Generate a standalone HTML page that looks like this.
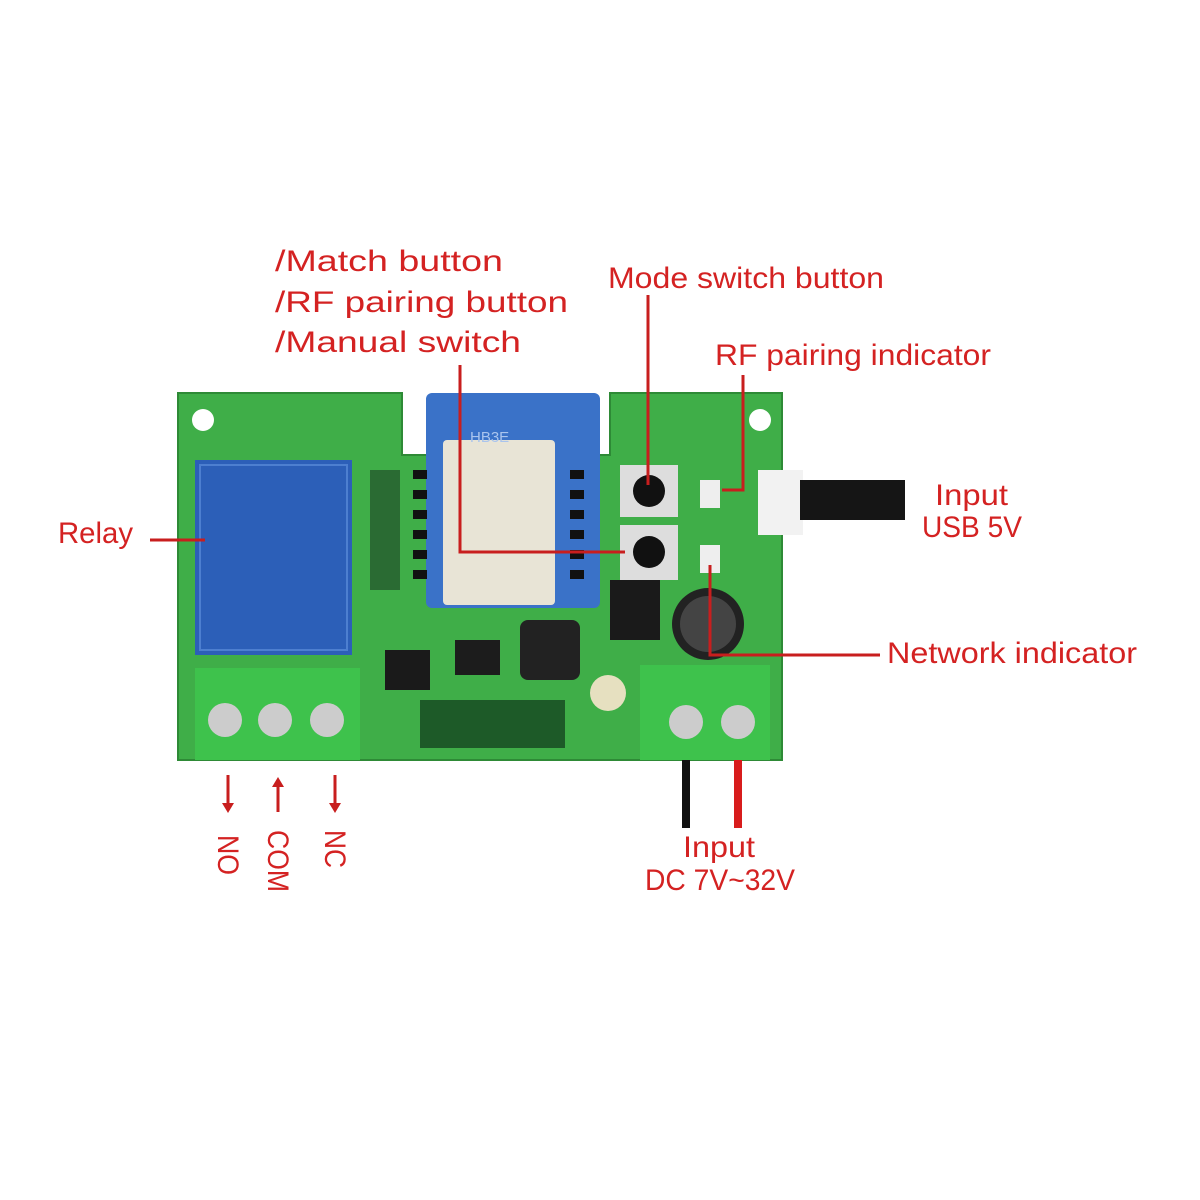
<!DOCTYPE html>
<html><head><meta charset="utf-8"><style>
body{margin:0;background:#fff}
svg{display:block}
text{font-family:"Liberation Sans",sans-serif;fill:#d42222;font-size:30px}
</style></head><body>
<svg width="1200" height="1200" viewBox="0 0 1200 1200">
<path d="M178 393 H402 V455 H610 V393 H782 V760 H178 Z" fill="#3fae48"/>
<path d="M178 393 H402 V455 H610 V393 H782 V760 H178 Z" fill="none" stroke="#2e8a36" stroke-width="2"/>
<circle cx="203" cy="420" r="11" fill="#fff"/>
<circle cx="760" cy="420" r="11" fill="#fff"/>
<rect x="426" y="393" width="174" height="215" rx="6" fill="#3a72c8"/>
<rect x="443" y="440" width="112" height="165" rx="4" fill="#e8e4d6"/>
<text x="470" y="442" style="font-size:15px;fill:#a9c4ee">HB3E</text>
<g fill="#111">
<rect x="413" y="470" width="14" height="9"/><rect x="413" y="490" width="14" height="9"/><rect x="413" y="510" width="14" height="9"/><rect x="413" y="530" width="14" height="9"/><rect x="413" y="550" width="14" height="9"/><rect x="413" y="570" width="14" height="9"/>
<rect x="570" y="470" width="14" height="9"/><rect x="570" y="490" width="14" height="9"/><rect x="570" y="510" width="14" height="9"/><rect x="570" y="530" width="14" height="9"/><rect x="570" y="550" width="14" height="9"/><rect x="570" y="570" width="14" height="9"/>
</g>
<rect x="195" y="460" width="157" height="195" fill="#2c5fb8"/>
<rect x="200" y="465" width="147" height="185" fill="none" stroke="#4d7fd0" stroke-width="2"/>
<rect x="370" y="470" width="30" height="120" fill="#2a6b33"/>
<rect x="520" y="620" width="60" height="60" rx="8" fill="#222"/>
<rect x="455" y="640" width="45" height="35" fill="#1c1c1c"/>
<rect x="420" y="700" width="145" height="48" fill="#1d5a28"/>
<rect x="610" y="580" width="50" height="60" fill="#1a1a1a"/>
<rect x="385" y="650" width="45" height="40" fill="#1a1a1a"/>
<circle cx="608" cy="693" r="18" fill="#e6e0c0"/>
<circle cx="708" cy="624" r="36" fill="#222"/>
<circle cx="708" cy="624" r="28" fill="#444"/>
<rect x="620" y="465" width="58" height="52" fill="#ddd"/>
<circle cx="649" cy="491" r="16" fill="#111"/>
<rect x="620" y="525" width="58" height="55" fill="#ddd"/>
<circle cx="649" cy="552" r="16" fill="#111"/>
<rect x="700" y="480" width="20" height="28" fill="#eee"/>
<rect x="700" y="545" width="20" height="28" fill="#eee"/>
<rect x="758" y="470" width="45" height="65" fill="#f2f2f2"/>
<rect x="800" y="480" width="105" height="40" fill="#151515"/>
<rect x="195" y="668" width="165" height="92" fill="#3ec24c"/>
<circle cx="225" cy="720" r="17" fill="#ccc"/><circle cx="275" cy="720" r="17" fill="#ccc"/><circle cx="327" cy="720" r="17" fill="#ccc"/>
<rect x="640" y="665" width="130" height="95" fill="#3ec24c"/>
<circle cx="686" cy="722" r="17" fill="#ccc"/><circle cx="738" cy="722" r="17" fill="#ccc"/>
<rect x="682" y="760" width="8" height="68" fill="#111"/>
<rect x="734" y="760" width="8" height="68" fill="#d81c1c"/>
<g stroke="#c81e1e" stroke-width="3" fill="none">
<line x1="150" y1="540" x2="205" y2="540"/>
<polyline points="460,365 460,552 625,552"/>
<line x1="648" y1="295" x2="648" y2="485"/>
<polyline points="743,375 743,490 722,490"/>
<polyline points="880,655 710,655 710,565"/>
<line x1="228" y1="775" x2="228" y2="805"/>
<line x1="278" y1="785" x2="278" y2="812"/>
<line x1="335" y1="775" x2="335" y2="805"/>
</g>
<g fill="#c81e1e">
<polygon points="222,803 234,803 228,813"/>
<polygon points="272,787 284,787 278,777"/>
<polygon points="329,803 341,803 335,813"/>
</g>
<text x="58" y="543" textLength="75" lengthAdjust="spacingAndGlyphs">Relay</text>
<text x="275" y="271" textLength="228" lengthAdjust="spacingAndGlyphs">/Match button</text>
<text x="275" y="312" textLength="293" lengthAdjust="spacingAndGlyphs">/RF pairing button</text>
<text x="275" y="352" textLength="246" lengthAdjust="spacingAndGlyphs">/Manual switch</text>
<text x="608" y="288" textLength="276" lengthAdjust="spacingAndGlyphs">Mode switch button</text>
<text x="715" y="365" textLength="276" lengthAdjust="spacingAndGlyphs">RF pairing indicator</text>
<text x="935" y="505" textLength="73" lengthAdjust="spacingAndGlyphs">Input</text>
<text x="922" y="537" textLength="100" lengthAdjust="spacingAndGlyphs">USB 5V</text>
<text x="887" y="663" textLength="250" lengthAdjust="spacingAndGlyphs">Network indicator</text>
<text x="683" y="857" textLength="72" lengthAdjust="spacingAndGlyphs">Input</text>
<text x="645" y="890" textLength="150" lengthAdjust="spacingAndGlyphs">DC 7V~32V</text>
<text transform="translate(218,835) rotate(90)" textLength="40" lengthAdjust="spacingAndGlyphs">NO</text>
<text transform="translate(268,830) rotate(90)" textLength="62" lengthAdjust="spacingAndGlyphs">COM</text>
<text transform="translate(325,830) rotate(90)" textLength="38" lengthAdjust="spacingAndGlyphs">NC</text>
</svg>
</body></html>
